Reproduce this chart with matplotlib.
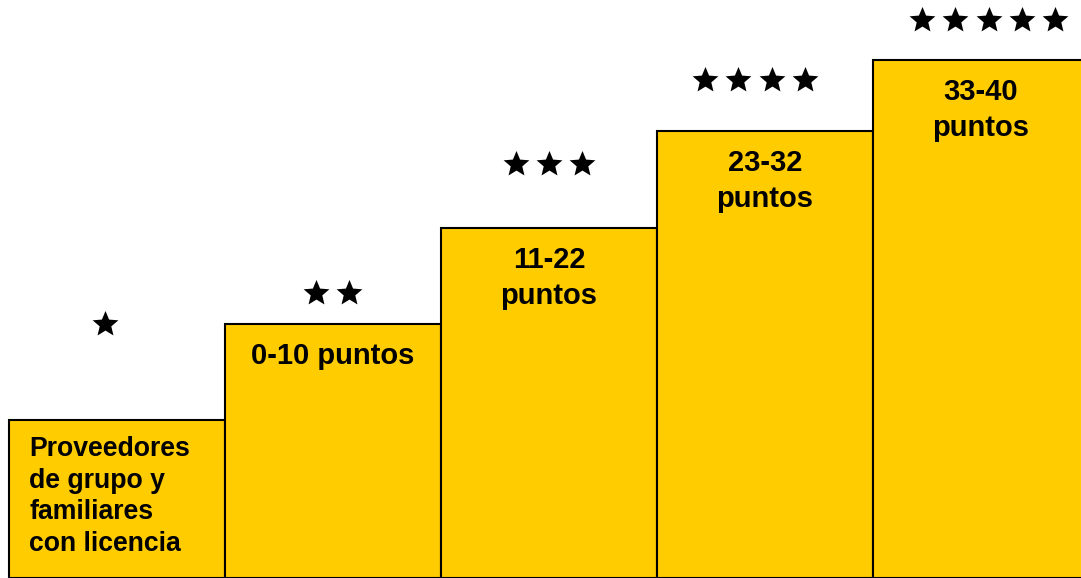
import numpy as np
import matplotlib
matplotlib.use('Agg')
import matplotlib.pyplot as plt
from matplotlib.path import Path

plt.rcParams['font.family'] = ['Liberation Sans', 'DejaVu Sans']

# escalones (alturas, en px desde abajo)
labels = ['Proveedores\nde grupo y\nfamiliares\ncon licencia',
          '0-10 puntos', '11-22\npuntos', '23-32\npuntos', '33-40\npuntos']
heights = [158.5, 254.5, 350, 447, 518]
n_stars = [1, 2, 3, 4, 5]
star_center = [0.444, 1.498, 2.5, 3.454, 4.535]   # centro del grupo de estrellas
star_level = [254.5, 285, 414, 498, 558]

# estrella un poco mas gruesa que la '*' de matplotlib
ang = np.pi / 2 + np.arange(10) * np.pi / 5
rad = np.where(np.arange(10) % 2 == 0, 1.0, 0.45)
verts = np.column_stack([rad * np.cos(ang), rad * np.sin(ang)])
verts = np.vstack([verts, verts[:1]])
star = Path(verts, closed=True)

fig = plt.figure(figsize=(10.81, 5.78), dpi=100)
ax = fig.add_axes([0, 0, 1, 1])

x = np.arange(len(heights))
ax.bar(x, heights, width=1.0, align='edge', color='#FFCC00',
       edgecolor='black', linewidth=1.5)

gap = 0.154
for i in range(len(n_stars)):
    k = n_stars[i]
    xs = star_center[i] + (np.arange(k) - (k - 1) / 2) * gap
    ax.plot(xs, [star_level[i]] * k, linestyle='none', marker=star,
            markersize=19.5, color='black', markeredgewidth=0)

for i in range(len(labels)):
    if i == 0:
        ax.text(x[i] + 20 / 216, heights[i] - 17, labels[i], ha='left', va='top',
                fontsize=19.2, fontweight='bold', linespacing=1.27)
    else:
        ax.text(x[i] + 0.5, heights[i] - 18, labels[i], ha='center', va='top',
                fontsize=21, fontweight='bold', linespacing=1.35)

ax.set_xlim(-9 / 216, 1072 / 216)
ax.set_ylim(0, 578)
ax.axis('off')

fig.savefig('out.png', dpi=100)
